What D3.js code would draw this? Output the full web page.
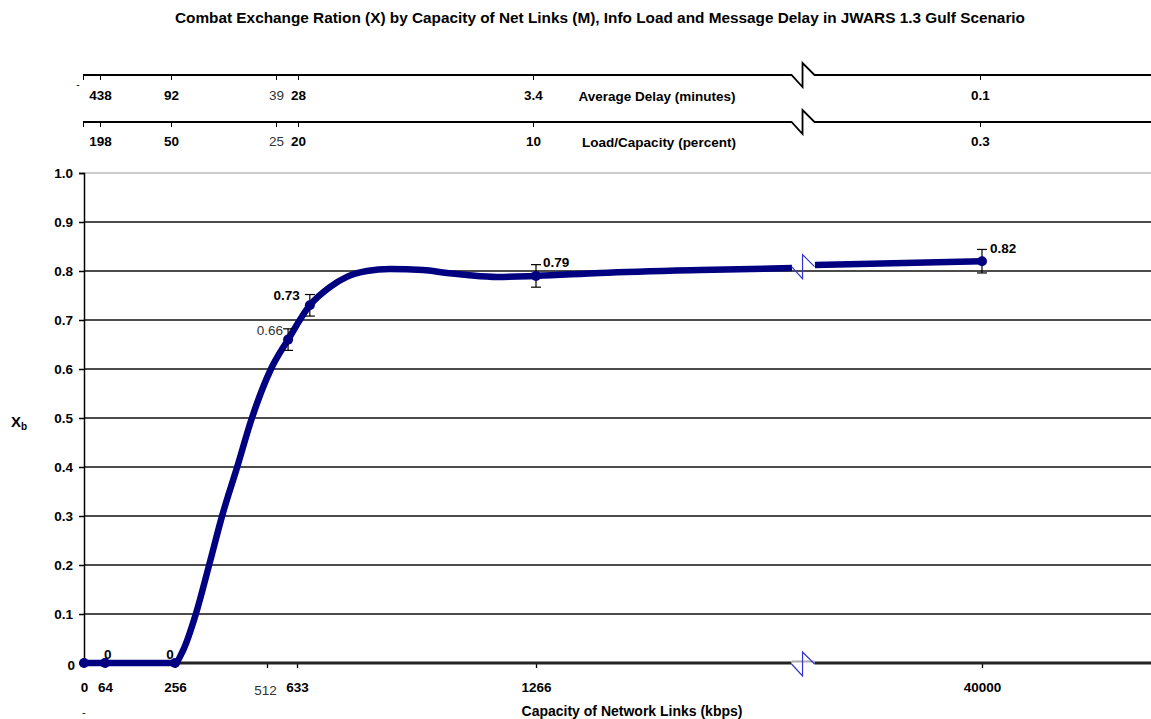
<!DOCTYPE html>
<html>
<head>
<meta charset="utf-8">
<script src="https://cdn.jsdelivr.net/npm/d3@7"></script>
<style>
  body { margin: 0; background: #fff; }
  svg text { font-family: Arial, "Liberation Sans", sans-serif; }
</style>
</head>
<body>
<script>
// capacity axis (kbps), shared by the bottom axis and the two top axes
const capacityTicks = [0, 64, 256, 512, 633, 1266, 40000];
const capacityLabels = ["0", "64", "256", "512", "633", "1266", "40000"];
const delayLabels = ["", "438", "92", "39", "28", "3.4", "0.1"];
const loadLabels = ["", "198", "50", "25", "20", "10", "0.3"];
const faintLabels = ["512", "39", "25"];

// measured points with error bars
const markerKbps = [0, 64, 256, 597, 667, 1266, 40000];
const markerXb = [0, 0, 0, 0.66, 0.73, 0.79, 0.82];
const markerErr = [0, 0, 0, 0.022, 0.022, 0.023, 0.024];
const markerLabels = ["", "0", "0", "0.66", "0.73", "0.79", "0.82"];

// traced line, left of the axis break and right of it
const curveKbps = [0, 64, 256, 278, 314, 351, 387, 429, 470, 528, 597, 667, 720, 765, 818, 879, 967, 1030, 1083, 1163, 1266, 6824, 15508, 23498];
const curveXb = [0, 0, 0, 0.025, 0.10, 0.20, 0.30, 0.40, 0.50, 0.60, 0.66, 0.73, 0.767, 0.788, 0.80, 0.804, 0.802, 0.796, 0.792, 0.788, 0.79, 0.796, 0.802, 0.806];
const tailKbps = [25495, 40000];
const tailXb = [0.812, 0.82];
const breakKbps = 24500;

const yTicks = [0, 0.1, 0.2, 0.3, 0.4, 0.5, 0.6, 0.7, 0.8, 0.9, 1.0];

const width = 1151, height = 719;
const navy = "#000080", zigBlue = "#3434d0";
const fs = 13.5;

const svg = d3.select("body").append("svg")
    .attr("width", width)
    .attr("height", height);

// axis is broken between 1266 and 40000, so the scale is piecewise
const x = d3.scaleLinear().domain(capacityTicks).range([84, 105, 175, 267, 297, 536, 982]);
const xTop = d3.scaleLinear().domain(capacityTicks).range([83, 100, 171, 276, 298, 533, 980]);
const y = d3.scaleLinear().domain([0, 1]).range([663, 173]);

svg.append("text")
    .attr("x", 175).attr("y", 23)
    .attr("font-size", 14).attr("font-weight", "bold")
    .attr("textLength", 850).attr("lengthAdjust", "spacingAndGlyphs")
    .text("Combat Exchange Ration (X) by Capacity of Net Links (M), Info Load and Message Delay in JWARS 1.3 Gulf Scenario");

// little zig-zag that marks an axis break
const zig = (cx, cy) => `M${cx - 12},${cy} L${cx - 1},${cy + 12} L${cx - 1},${cy - 12} L${cx + 11},${cy}`;
const bx = x(breakKbps);

// top axes: delay and load
function topAxis(yPos, labels, title, titleX, padding, dash) {
    const g = svg.append("g").attr("transform", `translate(0,${yPos})`);
    g.call(d3.axisBottom(xTop).tickValues(capacityTicks)
            .tickFormat((d, i) => labels[i]).tickSize(5).tickPadding(padding))
        .call(a => a.select(".domain").remove());
    g.selectAll(".tick line").attr("stroke", "#000");
    g.selectAll(".tick text")
        .attr("font-size", fs)
        .attr("font-weight", d => faintLabels.includes(labels[capacityTicks.indexOf(d)]) ? "normal" : "bold")
        .attr("fill", d => faintLabels.includes(labels[capacityTicks.indexOf(d)]) ? "#333" : "#000");
    g.append("path")
        .attr("d", `M${xTop(0)},0 H${bx - 12} ${zig(bx, 0).replace(/^M[^L]+/, "")} H${width}`)
        .attr("fill", "none").attr("stroke", "#000").attr("stroke-width", 1.8);
    g.append("text")
        .attr("x", titleX).attr("y", padding + 16)
        .attr("text-anchor", "middle")
        .attr("fill", "#000")
        .attr("font-size", fs).attr("font-weight", "bold")
        .text(title);
    if (dash) {
        g.append("text").attr("x", 78).attr("y", 13).attr("fill", "#000")
            .attr("font-size", 10).text("-");
    }
}
topAxis(75, delayLabels, "Average Delay (minutes)", 657, 10, true);
topAxis(122, loadLabels, "Load/Capacity (percent)", 659, 9, false);

// grid lines
svg.append("g").selectAll("line")
    .data(yTicks.filter(d => d > 0))
    .join("line")
    .attr("x1", x(0)).attr("x2", width)
    .attr("y1", d => y(d)).attr("y2", d => y(d))
    .attr("stroke", d => d === 1 ? "#999" : "#111")
    .attr("stroke-width", d => d === 1 ? 1.2 : 1.5);

// y axis
const yAxis = svg.append("g").attr("transform", `translate(${x(0)},0)`)
    .call(d3.axisLeft(y).tickValues(yTicks)
        .tickFormat(d => d === 0 ? "0" : d3.format(".1f")(d))
        .tickSize(5).tickPadding(6));
yAxis.select(".domain").attr("stroke", "#000").attr("stroke-width", 1.5);
yAxis.selectAll(".tick line").attr("stroke", "#000").attr("stroke-width", 1.5);
yAxis.selectAll(".tick text").attr("font-size", fs).attr("font-weight", "bold").attr("fill", "#000");
yAxis.selectAll(".tick").filter(d => d === 0).select("text").attr("x", -9).attr("dy", "0.45em");

const yTitle = svg.append("text")
    .attr("x", 11).attr("y", 427)
    .attr("font-size", 15).attr("font-weight", "bold");
yTitle.append("tspan").text("X");
yTitle.append("tspan").attr("font-size", 10).attr("dy", 3).text("b");

// x axis
const xAxis = svg.append("g").attr("transform", `translate(0,${y(0)})`)
    .call(d3.axisBottom(x).tickValues(capacityTicks)
        .tickFormat((d, i) => capacityLabels[i])
        .tickSize(5).tickPadding(14));
xAxis.select(".domain").remove();
xAxis.selectAll(".tick line").attr("stroke", "#000").attr("stroke-width", 1.3);
xAxis.selectAll(".tick text")
    .attr("font-size", fs)
    .attr("font-weight", (d, i) => faintLabels.includes(capacityLabels[i]) ? "normal" : "bold")
    .attr("fill", (d, i) => faintLabels.includes(capacityLabels[i]) ? "#333" : "#000")
    .attr("dx", (d, i) => faintLabels.includes(capacityLabels[i]) ? -2 : 0)
    .attr("dy", (d, i) => faintLabels.includes(capacityLabels[i]) ? "0.95em" : "0.71em");

svg.append("path")
    .attr("d", `M${x(0)},${y(0)} H${bx - 12} M${bx + 11},${y(0)} H${width}`)
    .attr("stroke", "#222").attr("stroke-width", 3);
svg.append("path")
    .attr("d", `M${bx - 12},${y(0) - 1.5} H${bx + 11}`)
    .attr("stroke", "#aaa").attr("stroke-width", 2);
svg.append("path")
    .attr("d", zig(bx, y(0) + 1))
    .attr("fill", "none").attr("stroke", zigBlue).attr("stroke-width", 1.2);

svg.append("text")
    .attr("x", 632).attr("y", 716)
    .attr("text-anchor", "middle")
    .attr("font-size", 14).attr("font-weight", "bold")
    .text("Capacity of Network Links (kbps)");
svg.append("text").attr("x", 82).attr("y", 716).attr("font-size", 11).text("-");

// the line
const line = d3.line()
    .x(d => x(d[0]))
    .y(d => y(d[1]))
    .curve(d3.curveMonotoneX);

svg.append("path")
    .datum(d3.zip(curveKbps, curveXb))
    .attr("d", line)
    .attr("fill", "none").attr("stroke", navy)
    .attr("stroke-width", 6.5).attr("stroke-linejoin", "round");
svg.append("path")
    .datum(d3.zip(tailKbps, tailXb))
    .attr("d", line)
    .attr("fill", "none").attr("stroke", navy)
    .attr("stroke-width", 6.5);
svg.append("path")
    .attr("d", zig(bx, y((curveXb[curveXb.length - 1] + tailXb[0]) / 2)))
    .attr("fill", "none").attr("stroke", zigBlue).attr("stroke-width", 1.2);

const points = markerKbps.map((k, i) => ({
    k: k, v: markerXb[i], err: markerErr[i], label: markerLabels[i]
}));

// error bars
const eb = svg.append("g").attr("stroke", "#000").attr("stroke-width", 1.2);
points.filter(p => p.err > 0).forEach(p => {
    const px = x(p.k);
    eb.append("line").attr("x1", px).attr("x2", px).attr("y1", y(p.v + p.err)).attr("y2", y(p.v - p.err));
    eb.append("line").attr("x1", px - 5).attr("x2", px + 5).attr("y1", y(p.v + p.err)).attr("y2", y(p.v + p.err));
    eb.append("line").attr("x1", px - 5).attr("x2", px + 5).attr("y1", y(p.v - p.err)).attr("y2", y(p.v - p.err));
});

svg.append("g").selectAll("circle")
    .data(points)
    .join("circle")
    .attr("cx", d => x(d.k))
    .attr("cy", d => y(d.v))
    .attr("r", 5)
    .attr("fill", navy);

// data labels, placement tuned by hand
const labelPlace = [
    null,
    { dx: -1, dy: -4, anchor: "start", bold: true },
    { dx: -5, dy: -4, anchor: "middle", bold: true },
    { dx: -5, dy: -5, anchor: "end", bold: false },
    { dx: -10, dy: -5, anchor: "end", bold: true },
    { dx: 7, dy: -9, anchor: "start", bold: true },
    { dx: 8, dy: -8, anchor: "start", bold: true }
];
svg.append("g").selectAll("text")
    .data(points.filter((p, i) => labelPlace[i]))
    .join("text")
    .each(function(d) {
        const pl = labelPlace[points.indexOf(d)];
        d3.select(this)
            .attr("x", x(d.k) + pl.dx)
            .attr("y", y(d.v) + pl.dy)
            .attr("text-anchor", pl.anchor)
            .attr("font-size", fs)
            .attr("font-weight", pl.bold ? "bold" : "normal")
            .attr("fill", pl.bold ? "#000" : "#333")
            .text(d.label);
    });
</script>
</body>
</html>
